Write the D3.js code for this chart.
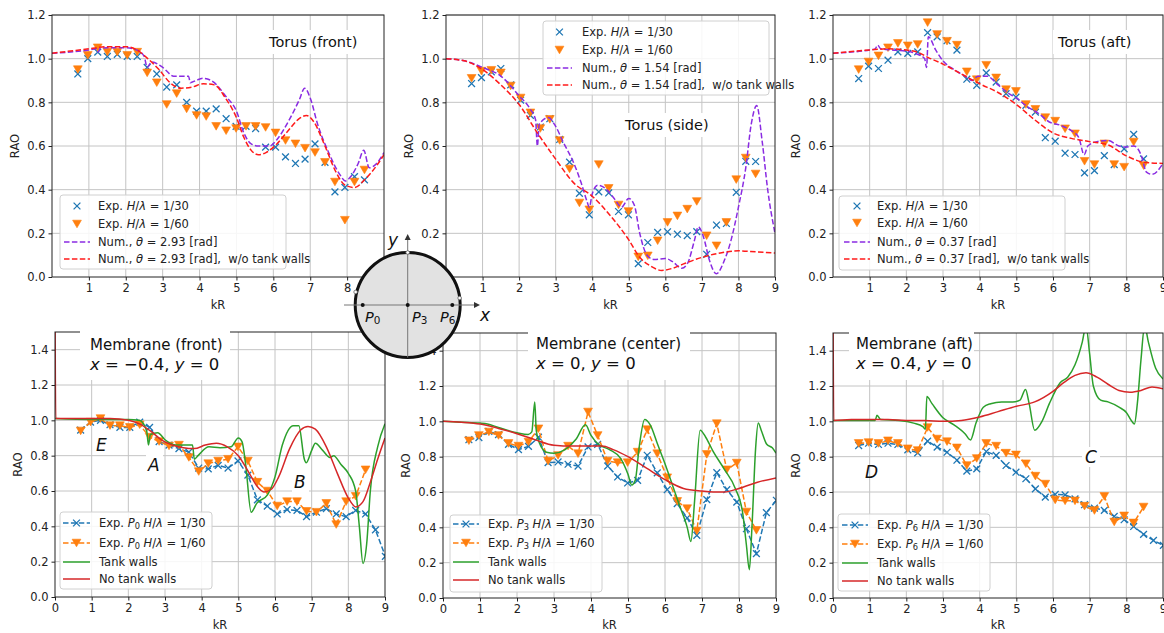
<!DOCTYPE html>
<html>
<head>
<meta charset="utf-8">
<script src="https://cdn.jsdelivr.net/npm/d3@7"></script>
<style>
  body { margin: 0; background: #fff; }
  svg { display: block; }
  text { font-family: "DejaVu Sans", sans-serif; white-space: pre; }
</style>
</head>
<body>
<svg id="fig" width="1164" height="633"></svg>
<script>
// measured kR positions of the experimental runs (shared by all panels)
const kR = [0.70, 0.97, 1.24, 1.50, 1.77, 2.04, 2.31, 2.58, 2.84, 3.11, 3.38, 3.65, 3.92, 4.18, 4.45, 4.72,
            4.99, 5.26, 5.52, 5.79, 6.06, 6.33, 6.60, 6.86, 7.13, 7.40, 7.67, 7.94, 8.20, 8.47, 8.74, 9.01];

// ---- Torus (front)
const frontExp30 = [0.93, 1.00, 1.03, 1.01, 1.02, 1.01, 1.01, 0.96, 0.93, 0.87, 0.88, 0.80, 0.76, 0.76, 0.77, 0.725,
                    0.69, 0.69, 0.68, 0.595, 0.595, 0.55, 0.52, 0.54, 0.61, 0.525, 0.39, 0.41, 0.46, 0.445];
const frontExp60 = [0.95, 1.015, 1.05, 1.03, 1.03, 1.015, 1.03, 0.935, 0.89, 0.79, 0.84, 0.77, 0.74, 0.735, 0.69, 0.67,
                    0.68, 0.69, 0.69, 0.685, 0.66, 0.625, 0.61, 0.59, 0.57, 0.525, 0.435, 0.26, 0.435, 0.49];
const frontNum = [[0, 1.025], [0.5, 1.03], [1.0, 1.04], [1.2, 1.045], [1.25, 1.03], [1.3, 1.045], [1.5, 1.05], [2.0, 1.05],
  [2.3, 1.04], [2.5, 1.01], [2.58, 0.96], [2.7, 0.985], [3.0, 0.96], [3.3, 0.92], [3.6, 0.92], [3.7, 0.92], [3.75, 0.89],
  [3.9, 0.90], [4.1, 0.91], [4.4, 0.89], [4.7, 0.83], [5.0, 0.76], [5.2, 0.66], [5.4, 0.61], [5.6, 0.60], [5.9, 0.60],
  [6.1, 0.63], [6.4, 0.71], [6.7, 0.81], [6.85, 0.865], [7.0, 0.82], [7.2, 0.70], [7.5, 0.57], [7.8, 0.47], [7.95, 0.44],
  [8.1, 0.46], [8.3, 0.52], [8.45, 0.58], [8.6, 0.50], [8.8, 0.52], [9.0, 0.57]];
const frontNumNoWalls = [[0, 1.025], [1, 1.045], [1.5, 1.055], [2, 1.055], [2.3, 1.04], [2.6, 1.0], [2.9, 0.95], [3.2, 0.89],
  [3.5, 0.865], [3.8, 0.87], [4.1, 0.885], [4.4, 0.88], [4.7, 0.82], [5.0, 0.73], [5.2, 0.64], [5.4, 0.58], [5.6, 0.56],
  [5.8, 0.57], [6.1, 0.61], [6.4, 0.67], [6.7, 0.725], [6.9, 0.74], [7.1, 0.71], [7.4, 0.60], [7.7, 0.48], [7.95, 0.42],
  [8.2, 0.41], [8.5, 0.45], [8.8, 0.51], [9.0, 0.56]];

// ---- Torus (side)
const sideExp30 = [0.886, 0.913, 0.94, 0.955, 0.88, 0.81, 0.74, 0.687, 0.725, 0.63, 0.526, 0.383, 0.285, 0.39, 0.385, 0.30,
                   0.285, 0.061, 0.158, 0.204, 0.207, 0.196, 0.19, 0.208, 0.104, 0.238, 0.245, 0.388, 0.53, 0.529];
const sideExp60 = [0.91, 0.943, 0.947, 0.935, 0.875, 0.82, 0.752, 0.68, 0.722, 0.625, 0.495, 0.339, 0.308, 0.515, 0.406, 0.33,
                   0.30, 0.092, 0.097, 0.166, 0.25, 0.28, 0.311, 0.346, 0.189, 0.143, 0.25, 0.446, 0.545, 0.472];
const sideNum = [[0, 1.0], [0.5, 0.99], [1.0, 0.96], [1.5, 0.92], [2.0, 0.83], [2.3, 0.77], [2.45, 0.72], [2.5, 0.60],
  [2.55, 0.70], [2.8, 0.73], [3.0, 0.69], [3.2, 0.62], [3.5, 0.52], [3.7, 0.43], [3.85, 0.35], [3.92, 0.32], [4.0, 0.38],
  [4.15, 0.42], [4.4, 0.40], [4.6, 0.36], [4.8, 0.32], [5.0, 0.36], [5.15, 0.33], [5.3, 0.20], [5.5, 0.10], [5.7, 0.08],
  [6.0, 0.085], [6.2, 0.07], [6.45, 0.04], [6.6, 0.06], [6.8, 0.17], [6.9, 0.23], [7.05, 0.18], [7.2, 0.08], [7.4, 0.015],
  [7.6, 0.07], [7.8, 0.17], [8.0, 0.32], [8.2, 0.50], [8.35, 0.70], [8.5, 0.785], [8.65, 0.62], [8.8, 0.40], [9.0, 0.20]];
const sideNumNoWalls = [[0, 1.0], [0.5, 0.99], [1.0, 0.95], [1.5, 0.88], [2.0, 0.79], [2.5, 0.66], [3.0, 0.54], [3.5, 0.43],
  [4.0, 0.37], [4.5, 0.28], [5.0, 0.17], [5.3, 0.09], [5.6, 0.05], [5.9, 0.03], [6.2, 0.04], [6.5, 0.06], [7.0, 0.09],
  [7.5, 0.11], [8.0, 0.12], [8.5, 0.115], [9.0, 0.11]];

// ---- Torus (aft)
const aftExp30 = [0.909, 0.966, 0.955, 0.993, 1.031, 1.024, 1.031, 1.119, 1.10, 1.082, 1.039, 0.906, 0.878, 0.935, 0.893, 0.84,
                  0.824, 0.786, 0.755, 0.638, 0.622, 0.567, 0.561, 0.477, 0.487, 0.556, 0.515, 0.587, 0.653, 0.541];
const aftExp60 = [0.95, 0.985, 1.013, 1.05, 1.07, 1.059, 1.065, 1.165, 1.111, 1.08, 1.062, 0.94, 0.904, 0.97, 0.912, 0.858,
                  0.85, 0.79, 0.768, 0.73, 0.714, 0.679, 0.656, 0.53, 0.515, 0.61, 0.515, 0.503, 0.618, 0.51];
const aftNum = [[0, 1.025], [0.5, 1.03], [1.0, 1.04], [1.15, 1.045], [1.22, 1.062], [1.3, 1.045], [1.6, 1.04], [2.0, 1.035],
  [2.3, 1.02], [2.5, 1.0], [2.55, 0.96], [2.6, 1.10], [2.8, 1.04], [3.0, 0.99], [3.3, 0.95], [3.6, 0.92], [3.8, 0.90],
  [3.95, 0.92], [4.2, 0.92], [4.5, 0.88], [4.8, 0.84], [5.0, 0.82], [5.3, 0.78], [5.6, 0.75], [5.9, 0.71], [6.2, 0.695],
  [6.5, 0.67], [6.7, 0.64], [6.85, 0.56], [6.95, 0.60], [7.2, 0.62], [7.5, 0.625], [7.8, 0.60], [8.0, 0.595], [8.2, 0.60],
  [8.4, 0.56], [8.55, 0.48], [8.7, 0.47], [9.0, 0.52]];
const aftNumNoWalls = [[0, 1.025], [1.0, 1.04], [1.5, 1.045], [2.0, 1.04], [2.3, 1.03], [2.6, 1.005], [3.0, 0.975],
  [3.5, 0.93], [4.0, 0.885], [4.5, 0.845], [5.0, 0.79], [5.5, 0.72], [6.0, 0.66], [6.5, 0.635], [7.0, 0.62], [7.5, 0.605],
  [8.0, 0.555], [8.5, 0.525], [9.0, 0.52]];

// ---- Membrane (front), P0
const memFrontExp30 = [0.945, 0.99, 1.00, 0.975, 0.96, 0.96, 0.99, 0.96, 0.88, 0.86, 0.84, 0.82, 0.73, 0.725, 0.745, 0.73,
                       0.77, 0.69, 0.55, 0.515, 0.47, 0.495, 0.49, 0.455, 0.48, 0.50, 0.47, 0.455, 0.49, 0.47, 0.38, 0.23];
const memFrontExp60 = [0.94, 0.99, 1.01, 0.97, 0.97, 0.96, 0.975, 0.905, 0.88, 0.855, 0.86, 0.79, 0.71, 0.755, 0.77, 0.78,
                       0.85, 0.77, 0.65, 0.60, 0.515, 0.54, 0.54, 0.485, 0.48, 0.53, 0.41, 0.54, 0.57, 0.72];
const memFrontTank = [[0, 1.01], [1.0, 1.005], [2.0, 1.005], [2.3, 1.0], [2.5, 0.94], [2.55, 0.86], [2.6, 0.92], [2.8, 0.93],
  [3.0, 0.89], [3.3, 0.86], [3.6, 0.86], [3.75, 0.86], [3.8, 0.78], [3.9, 0.80], [4.2, 0.85], [4.5, 0.845], [4.8, 0.85],
  [5.0, 0.90], [5.1, 0.88], [5.2, 0.75], [5.35, 0.48], [5.5, 0.53], [5.8, 0.58], [6.0, 0.68], [6.2, 0.86], [6.5, 0.97],
  [6.65, 0.97], [6.8, 0.78], [6.85, 0.76], [7.0, 0.83], [7.1, 0.87], [7.3, 0.83], [7.5, 0.79], [7.6, 0.80], [7.8, 0.75],
  [8.0, 0.70], [8.2, 0.60], [8.3, 0.40], [8.4, 0.19], [8.5, 0.30], [8.6, 0.60], [8.8, 0.85], [9.0, 0.98]];
const memFrontNoTank = [[0, 1.7], [0.02, 1.01], [0.5, 1.01], [1.0, 1.01], [1.5, 1.01], [2.0, 1.0], [2.3, 0.98], [2.6, 0.94],
  [2.9, 0.89], [3.2, 0.86], [3.5, 0.845], [3.8, 0.84], [4.1, 0.86], [4.4, 0.87], [4.7, 0.85], [5.0, 0.80], [5.3, 0.70],
  [5.5, 0.63], [5.7, 0.595], [5.9, 0.61], [6.1, 0.68], [6.4, 0.84], [6.7, 0.945], [6.9, 0.965], [7.1, 0.95], [7.4, 0.85],
  [7.7, 0.70], [8.0, 0.56], [8.2, 0.51], [8.4, 0.54], [8.6, 0.65], [8.8, 0.78], [9.0, 0.90]];

// ---- Membrane (center), P3
const memCenterExp30 = [0.896, 0.908, 0.943, 0.925, 0.87, 0.84, 0.858, 0.91, 0.766, 0.77, 0.757, 0.747, 0.855, 0.87, 0.747,
                        0.685, 0.651, 0.666, 0.808, 0.708, 0.613, 0.534, 0.453, 0.355, 0.557, 0.71, 0.613, 0.543, 0.392,
                        0.251, 0.483, 0.553];
const memCenterExp60 = [0.89, 0.92, 0.94, 0.92, 0.875, 0.86, 0.883, 0.958, 0.775, 0.807, 0.86, 0.817, 1.053, 0.92, 0.775,
                        0.766, 0.766, 0.826, 0.953, 0.817, 0.681, 0.547, 0.506, 0.379, 0.813, 0.987, 0.726, 0.764, 0.487,
                        0.383];
const memCenterTank = [[0, 1.0], [0.5, 0.995], [1.0, 0.99], [1.2, 0.985], [1.5, 0.965], [2.0, 0.935], [2.3, 0.925],
  [2.4, 0.94], [2.48, 1.11], [2.52, 0.95], [2.6, 0.88], [2.8, 0.825], [3.0, 0.82], [3.3, 0.84], [3.6, 0.90], [3.85, 0.98],
  [4.0, 0.92], [4.2, 0.87], [4.5, 0.84], [4.8, 0.79], [5.0, 0.70], [5.1, 0.64], [5.2, 0.67], [5.3, 0.85], [5.45, 1.01],
  [5.6, 0.98], [5.8, 0.87], [6.0, 0.76], [6.2, 0.64], [6.4, 0.52], [6.6, 0.40], [6.7, 0.32], [6.8, 0.55], [6.95, 0.95],
  [7.1, 0.91], [7.3, 0.83], [7.6, 0.73], [7.9, 0.62], [8.1, 0.48], [8.2, 0.30], [8.28, 0.16], [8.35, 0.40], [8.45, 0.85],
  [8.52, 0.99], [8.6, 0.95], [8.75, 0.87], [8.9, 0.85], [9.0, 0.82]];
const memCenterNoTank = [[0, 1.0], [0.5, 0.995], [1.0, 0.985], [1.5, 0.96], [2.0, 0.93], [2.5, 0.895], [3.0, 0.865],
  [3.5, 0.86], [4.0, 0.86], [4.3, 0.86], [4.6, 0.84], [5.0, 0.80], [5.5, 0.735], [6.0, 0.67], [6.5, 0.62], [7.0, 0.605],
  [7.3, 0.60], [7.6, 0.60], [8.0, 0.62], [8.5, 0.655], [9.0, 0.68]];

// ---- Membrane (aft), P6
const memAftExp30 = [0.863, 0.876, 0.869, 0.876, 0.869, 0.839, 0.822, 0.888, 0.854, 0.825, 0.78, 0.718, 0.731, 0.829, 0.807,
                     0.75, 0.712, 0.675, 0.618, 0.571, 0.586, 0.584, 0.561, 0.528, 0.509, 0.496, 0.462, 0.443, 0.405, 0.36,
                     0.326, 0.298];
const memAftExp60 = [0.875, 0.88, 0.875, 0.89, 0.875, 0.845, 0.835, 0.965, 0.90, 0.885, 0.85, 0.75, 0.79, 0.875, 0.86, 0.82,
                     0.81, 0.76, 0.69, 0.645, 0.555, 0.55, 0.55, 0.52, 0.495, 0.575, 0.43, 0.465, 0.425, 0.515];
const memAftTank = [[0, 1.005], [0.8, 1.005], [1.15, 1.005], [1.2, 1.035], [1.3, 1.01], [1.8, 1.005], [2.2, 0.99],
  [2.45, 0.97], [2.52, 0.955], [2.56, 1.14], [2.7, 1.10], [3.0, 1.02], [3.3, 0.98], [3.6, 0.93], [3.75, 0.895], [3.9, 0.99],
  [4.1, 1.08], [4.3, 1.10], [4.6, 1.11], [4.9, 1.11], [5.1, 1.12], [5.25, 1.18], [5.35, 1.10], [5.5, 0.95], [5.7, 1.00],
  [5.9, 1.10], [6.2, 1.22], [6.4, 1.25], [6.6, 1.32], [6.8, 1.45], [6.9, 1.54], [7.0, 1.38], [7.1, 1.20], [7.3, 1.12],
  [7.5, 1.11], [7.8, 1.08], [8.0, 1.05], [8.15, 1.00], [8.22, 0.985], [8.3, 1.10], [8.4, 1.35], [8.5, 1.54], [8.6, 1.45],
  [8.8, 1.30], [9.0, 1.24]];
const memAftNoTank = [[0, 1.7], [0.02, 1.005], [0.5, 1.01], [1.0, 1.01], [1.5, 1.01], [2.0, 1.005], [2.5, 1.005], [3.0, 1.0],
  [3.5, 1.005], [4.0, 1.025], [4.5, 1.055], [5.0, 1.085], [5.5, 1.11], [6.0, 1.17], [6.3, 1.22], [6.6, 1.26], [6.9, 1.275],
  [7.2, 1.25], [7.5, 1.21], [7.8, 1.175], [8.1, 1.165], [8.4, 1.175], [8.7, 1.195], [9.0, 1.185]];

const xTicksTop = [1, 2, 3, 4, 5, 6, 7, 8, 9];
const xTicksBottom = [0, 1, 2, 3, 4, 5, 6, 7, 8, 9];
const yTicksTop = [0, 0.2, 0.4, 0.6, 0.8, 1.0, 1.2];
const yTicksBottom = [0, 0.2, 0.4, 0.6, 0.8, 1.0, 1.2, 1.4];

const BLUE = "#1f77b4", ORANGE = "#ff7f0e", GREEN = "#2ca02c", RED = "#d62728";
const VIOLET = "#8a2be2", BRIGHTRED = "#ff1a1a";
const GRID = "#c4c4c4";
const FS = 11.5; // tick / legend / label font size

const svg = d3.select("#fig");
const defs = svg.append("defs");

// rich text: segments [text, style]  style: "i" italic, "s" subscript
function rich(t, segs) {
  segs.forEach(([s, st]) => {
    const ts = t.append("tspan").text(s);
    if (st === "i") ts.attr("font-style", "italic");
    if (st === "s") ts.attr("font-size", "0.72em").attr("baseline-shift", "-20%");
  });
}
const expTop = h => [["Exp. "], ["H", "i"], ["/"], ["λ", "i"], [" = " + h]];
const numTop = (th, extra) => [["Num., "], ["θ", "i"], [" = " + th + " [rad]" + (extra || "")]];
const expBot = (p, h) => [["Exp. "], ["P", "i"], [p, "s"], [" "], ["H", "i"], ["/"], ["λ", "i"], [" = " + h]];

function markerPath(m) {
  return m === "x" ? "M-3.4,-3.4L3.4,3.4M-3.4,3.4L3.4,-3.4" : "M-4.4,-3.8L4.4,-3.8L0,3.8Z";
}
function drawMarker(sel, m, color) {
  sel.append("path").attr("d", markerPath(m))
    .attr("fill", m === "x" ? "none" : color)
    .attr("stroke", color).attr("stroke-width", m === "x" ? 1.3 : 0.6);
}

function drawPanel(p, i) {
  const x = d3.scaleLinear().domain([0, 9]).range([p.left, p.right]);
  const y = d3.scaleLinear().domain([0, p.ymax]).range([p.bottom, p.top]);
  const g = svg.append("g");
  const clipId = "clip" + i;
  defs.append("clipPath").attr("id", clipId).append("rect")
    .attr("x", p.left).attr("y", p.top).attr("width", p.right - p.left).attr("height", p.bottom - p.top);

  // grid
  g.append("g").selectAll("line").data(p.xticks.filter(t => t > 0 && t < 9)).join("line")
    .attr("x1", d => x(d)).attr("x2", d => x(d)).attr("y1", p.top).attr("y2", p.bottom)
    .attr("stroke", GRID).attr("stroke-width", 1);
  g.append("g").selectAll("line").data(p.yticks.filter(t => t > 0)).join("line")
    .attr("x1", p.left).attr("x2", p.right).attr("y1", d => y(d)).attr("y2", d => y(d))
    .attr("stroke", GRID).attr("stroke-width", 1);

  const plot = g.append("g").attr("clip-path", `url(#${clipId})`);
  const line = d3.line().x(d => x(d[0])).y(d => y(d[1])).curve(d3.curveMonotoneX);

  p.series.forEach(s => {
    if (s.kind === "line") {
      plot.append("path").datum(s.data).attr("d", line).attr("fill", "none")
        .attr("stroke", s.color).attr("stroke-width", 1.5)
        .attr("stroke-dasharray", s.dash ? "5.5,2.4" : null);
    } else {
      const pts = s.values.map((v, k) => [kR[k], v]);
      if (s.joined) {
        plot.append("path").datum(pts).attr("d", d3.line().x(d => x(d[0])).y(d => y(d[1])))
          .attr("fill", "none").attr("stroke", s.color).attr("stroke-width", 1.5).attr("stroke-dasharray", "5.5,2.4");
      }
      plot.append("g").selectAll("g").data(pts).join("g")
        .attr("transform", d => `translate(${x(d[0])},${y(d[1])})`)
        .each(function () { drawMarker(d3.select(this), s.marker, s.color); });
    }
  });

  // spines
  g.append("rect").attr("x", p.left).attr("y", p.top).attr("width", p.right - p.left).attr("height", p.bottom - p.top)
    .attr("fill", "none").attr("stroke", "#222").attr("stroke-width", 1);

  const styleAxis = a => {
    a.select(".domain").remove();
    a.selectAll("line").attr("stroke", "#222");
    a.selectAll("text").attr("fill", "#222").attr("font-size", FS).attr("font-family", "DejaVu Sans");
  };
  g.append("g").attr("transform", `translate(0,${p.bottom})`)
    .call(d3.axisBottom(x).tickValues(p.xticks).tickSize(3.5).tickPadding(3).tickFormat(d3.format("d")))
    .call(styleAxis);
  g.append("g").attr("transform", `translate(${p.left},0)`)
    .call(d3.axisLeft(y).tickValues(p.yticks).tickSize(3.5).tickPadding(3).tickFormat(d3.format(".1f")))
    .call(styleAxis);

  g.append("text").attr("x", (p.left + p.right) / 2).attr("y", p.xlabelY).attr("text-anchor", "middle")
    .attr("font-size", FS).attr("fill", "#222").text("kR");
  g.append("text").attr("transform", `translate(${p.left - 37},${(p.top + p.bottom) / 2}) rotate(-90)`)
    .attr("text-anchor", "middle").attr("dominant-baseline", "middle")
    .attr("font-size", FS).attr("fill", "#222").text("RAO");

  // legend
  const L = p.legend;
  const lg = g.append("g");
  lg.append("rect").attr("x", L.x).attr("y", L.y).attr("width", L.w).attr("height", L.h).attr("rx", 3)
    .attr("fill", "#fff").attr("fill-opacity", 0.85).attr("stroke", "#d0d0d0").attr("stroke-width", 1);
  L.items.forEach((it, k) => {
    const yy = L.rows[k];
    const s = p.series[k];
    if (s.kind === "line" || s.joined) {
      lg.append("line").attr("x1", L.h0).attr("x2", L.h1).attr("y1", yy).attr("y2", yy)
        .attr("stroke", s.color).attr("stroke-width", 1.5).attr("stroke-dasharray", s.dash || s.joined ? "5.5,2.4" : null);
    }
    if (s.kind === "points") {
      drawMarker(lg.append("g").attr("transform", `translate(${(L.h0 + L.h1) / 2},${yy})`), s.marker, s.color);
    }
    const t = lg.append("text").attr("x", L.tx).attr("y", yy + 4.2).attr("font-size", FS).attr("fill", "#222");
    rich(t, it);
  });

  // title(s)
  p.titles.forEach(tt => {
    if (tt.box) g.append("rect").attr("x", tt.box[0]).attr("y", tt.box[1]).attr("width", tt.box[2]).attr("height", tt.box[3]).attr("fill", "#fff");
    const t = g.append("text").attr("x", tt.x).attr("y", tt.y).attr("fill", "#111")
      .attr("font-size", tt.size).attr("font-family", tt.serif ? "Liberation Serif, serif" : "Open Sans, sans-serif");
    rich(t, tt.segs);
  });
}

const topLegend = (x, y, h0, h1, tx, rows, th) => ({
  x: x, y: y, w: 226, h: 74, h0: h0, h1: h1, tx: tx, rows: rows,
  items: [expTop("1/30"), expTop("1/60"), numTop(th), numTop(th, ",  w/o tank walls")]
});
const botLegend = (x, y, h0, h1, tx, rows, pn) => ({
  x: x, y: y, w: 152, h: 77, h0: h0, h1: h1, tx: tx, rows: rows,
  items: [expBot(pn, "1/30"), expBot(pn, "1/60"), [["Tank walls"]], [["No tank walls"]]]
});
const topSeries = (e30, e60, num, numNo) => [
  { kind: "points", values: e30, marker: "x", color: BLUE },
  { kind: "points", values: e60, marker: "v", color: ORANGE },
  { kind: "line", data: num, color: VIOLET, dash: true },
  { kind: "line", data: numNo, color: BRIGHTRED, dash: true }
];
const botSeries = (e30, e60, tank, noTank) => [
  { kind: "points", values: e30, marker: "x", color: BLUE, joined: true },
  { kind: "points", values: e60, marker: "v", color: ORANGE, joined: true },
  { kind: "line", data: tank, color: GREEN },
  { kind: "line", data: noTank, color: RED }
];
const serifLine = (a, b) => [[a, "i"], [" = " + b + ", "], ["y", "i"], [" = 0"]];

const panels = [
  { left: 52, right: 384, top: 15, bottom: 277, ymax: 1.2, xticks: xTicksTop, yticks: yTicksTop, xlabelY: 309,
    series: topSeries(frontExp30, frontExp60, frontNum, frontNumNoWalls),
    legend: topLegend(60, 195, 64, 90, 98, [206, 224, 242, 259], "2.93"),
    titles: [{ x: 269, y: 47, size: 14.5, segs: [["Torus (front)"]], box: [264, 30, 96, 24] }] },
  { left: 446, right: 775, top: 15, bottom: 277, ymax: 1.2, xticks: xTicksTop, yticks: yTicksTop, xlabelY: 309,
    series: topSeries(sideExp30, sideExp60, sideNum, sideNumNoWalls),
    legend: topLegend(543, 21, 547, 572, 582, [32, 50, 68, 85], "1.54"),
    titles: [{ x: 625, y: 130, size: 14.5, segs: [["Torus (side)"]], box: [620, 113, 92, 24] }] },
  { left: 833, right: 1163, top: 15, bottom: 277, ymax: 1.2, xticks: xTicksTop, yticks: yTicksTop, xlabelY: 309,
    series: topSeries(aftExp30, aftExp60, aftNum, aftNumNoWalls),
    legend: topLegend(839, 196, 844, 870, 877, [206, 223, 242, 259], "0.37"),
    titles: [{ x: 1058, y: 47, size: 14.5, segs: [["Torus (aft)"]], box: [1053, 30, 80, 24] }] },
  { left: 55, right: 385, top: 332, bottom: 597, ymax: 1.5, xticks: xTicksBottom, yticks: yTicksBottom, xlabelY: 629,
    series: botSeries(memFrontExp30, memFrontExp60, memFrontTank, memFrontNoTank),
    legend: botLegend(60, 512, 63, 90, 99, [523, 543, 562, 579], "0"),
    titles: [
      { x: 90, y: 350, size: 15, segs: [["Membrane (front)"]], box: [80, 325, 150, 55] },
      { x: 90, y: 370, size: 16.5, serif: true, segs: serifLine("x", "−0.4") },
      { x: 96, y: 451, size: 17, serif: true, segs: [["E", "i"]] },
      { x: 148, y: 471, size: 17, serif: true, segs: [["A", "i"]], box: [146, 455, 17, 20] },
      { x: 294, y: 488, size: 17, serif: true, segs: [["B", "i"]], box: [292, 472, 17, 20] }] },
  { left: 443, right: 776, top: 333, bottom: 598, ymax: 1.5, xticks: xTicksBottom, yticks: yTicksBottom, xlabelY: 629,
    series: botSeries(memCenterExp30, memCenterExp60, memCenterTank, memCenterNoTank),
    legend: botLegend(450, 515, 453, 479, 488, [524, 543, 562, 580], "3"),
    titles: [
      { x: 536, y: 349, size: 15, segs: [["Membrane (center)"]], box: [528, 325, 162, 55] },
      { x: 536, y: 369, size: 16.5, serif: true, segs: serifLine("x", "0") }] },
  { left: 833, right: 1163, top: 333, bottom: 598, ymax: 1.5, xticks: xTicksBottom, yticks: yTicksBottom, xlabelY: 629,
    series: botSeries(memAftExp30, memAftExp60, memAftTank, memAftNoTank),
    legend: botLegend(838, 514, 842, 868, 877, [525, 544, 563, 581], "6"),
    titles: [
      { x: 856, y: 349, size: 15, segs: [["Membrane (aft)"]], box: [849, 325, 125, 55] },
      { x: 856, y: 369, size: 16.5, serif: true, segs: serifLine("x", "0.4") },
      { x: 865, y: 478, size: 17, serif: true, segs: [["D", "i"]] },
      { x: 1085, y: 463, size: 17, serif: true, segs: [["C", "i"]], box: [1082, 447, 18, 20] }] }
];
panels.forEach(drawPanel);

// ---- sketch of the tank with probe positions
const cx = 407.7, cy = 305, r = 52.5;
const sk = svg.append("g");
sk.append("circle").attr("cx", cx).attr("cy", cy).attr("r", r).attr("fill", "#e2e2e2").attr("stroke", "#111").attr("stroke-width", 3);
sk.append("line").attr("x1", 344).attr("x2", 474).attr("y1", cy).attr("y2", cy).attr("stroke", "#777").attr("stroke-width", 1);
sk.append("line").attr("x1", cx).attr("x2", cx).attr("y1", cy + r).attr("y2", 238).attr("stroke", "#777").attr("stroke-width", 1);
sk.append("path").attr("d", `M474,${cy - 3}L480,${cy}L474,${cy + 3}Z`).attr("fill", "#333");
sk.append("path").attr("d", `M${cx - 3},240L${cx},234L${cx + 3},240Z`).attr("fill", "#333");
const probes = [{ x: 362.7, name: "0", lx: 365 }, { x: cx, name: "3", lx: 412 }, { x: 452.3, name: "6", lx: 440 }];
probes.forEach(pr => {
  sk.append("circle").attr("cx", pr.x).attr("cy", cy).attr("r", 2).attr("fill", "#111");
  const t = sk.append("text").attr("x", pr.lx).attr("y", 322).attr("font-size", 14.5)
    .attr("font-family", "Liberation Serif, serif").attr("fill", "#111");
  rich(t, [["P", "i"], [pr.name, "s"]]);
});
[[cx, cy - r], [355.6, 292], [459.6, 298]].forEach(d => {
  sk.append("circle").attr("cx", d[0]).attr("cy", d[1]).attr("r", 1.8).attr("fill", "#fff").attr("stroke", "#666").attr("stroke-width", 0.8);
});
sk.append("text").attr("x", 388).attr("y", 246).attr("font-size", 17).attr("font-style", "italic")
  .attr("font-family", "Liberation Serif, serif").attr("fill", "#111").text("y");
sk.append("text").attr("x", 480).attr("y", 321).attr("font-size", 17).attr("font-style", "italic")
  .attr("font-family", "Liberation Serif, serif").attr("fill", "#111").text("x");
</script>
</body>
</html>
